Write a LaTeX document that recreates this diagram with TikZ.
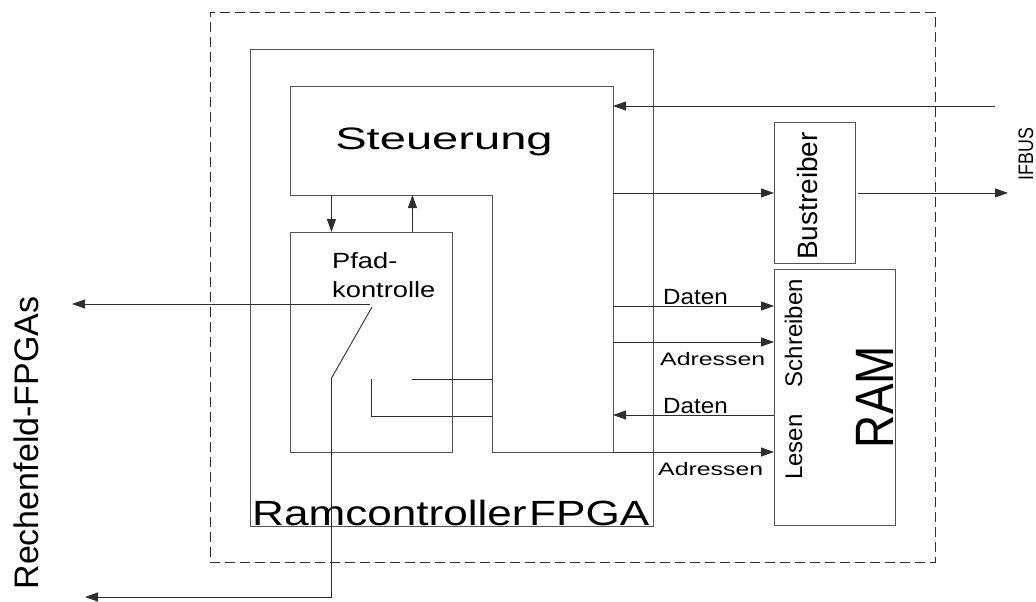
\documentclass[tikz,border=0pt]{standalone}
\usepackage{fontspec}
\setmainfont{Liberation Sans}
\usepackage{graphicx}
\usetikzlibrary{arrows.meta, positioning, calc}
\definecolor{wireGray}{HTML}{2E2E2E}
\definecolor{boxGray}{HTML}{555555}
\tikzset{
  arrowK/.style={-{Triangle[length=13pt,width=9pt]}, color=wireGray, line width=0.9pt},
  wire/.style={color=wireGray, line width=0.9pt},
  blk/.style={rectangle, draw=boxGray, line width=0.9pt, anchor=north west, inner sep=0pt},
  board/.style={rectangle, draw=wireGray, line width=0.8pt, dash pattern=on 10pt off 5pt,
                anchor=north west, inner sep=0pt},
  lbl/.style={inner sep=0pt, text=black},
  fontXL/.style={font=\fontsize{54}{60}\selectfont},
  fontL/.style={font=\fontsize{35}{40}\selectfont},
  fontM/.style={font=\fontsize{31}{36}\selectfont},
  fontS/.style={font=\fontsize{22}{29}\selectfont},
  fontXS/.style={font=\fontsize{18}{22}\selectfont},
}

\begin{document}
\begin{tikzpicture}[x=1pt, y=-1pt]
    \useasboundingbox (0,0) rectangle (1036,602);
    % boxes
    \node[board, minimum width=725pt, minimum height=550pt] (brd) at (210,12) {};
    \node[blk, minimum width=403pt, minimum height=477pt] (fpga) at (250,49) {};
    \node[blk, minimum width=162pt, minimum height=220pt] (pfad) at (290,232) {};
    \node[blk, minimum width=81pt, minimum height=141pt] (bus) at (774,122) {};
    \node[blk, minimum width=121pt, minimum height=256pt] (ram) at (774,269) {};
    % Steuerung outline
    \coordinate (stNW) at (290,86);
    \coordinate (stNE) at (613,86);
    \coordinate (stSE) at (613,452);
    \coordinate (stLegS) at (492,452);
    \coordinate (stLegN) at (492,195);
    \coordinate (stSW) at (290,195);
    \draw[boxGray, line width=0.9pt] (stNW) -- (stNE) -- (stSE) -- (stLegS)
      -- (stLegN) -- (stSW) -- cycle;

    % texts
    \node[lbl, fontM, anchor=base] (steu) at (444,149) {\scalebox{1.52}[1]{Steuerung}};
    \node[lbl, fontS, anchor=base west, align=left] (pfadtxt) at (332,297)
      {\scalebox{1.24}[1]{Pfad-}\\\scalebox{1.24}[1]{kontrolle}};
    \node[lbl, fontL, anchor=base west] (fpgatxt) at (252,525)
      {\scalebox{1.26}[1]{Ramcontroller\kern2pt FPGA}};
    \node[lbl, rotate=90, anchor=base, font=\fontsize{28}{32}\selectfont] (bustxt) at (817,196) {Bustreiber};
    \node[lbl, rotate=90, anchor=base, font=\fontsize{24}{28}\selectfont] (schr) at (802,333) {Schreiben};
    \node[lbl, rotate=90, anchor=base, font=\fontsize{24}{28}\selectfont] (les) at (802,447) {Lesen};
    \node[lbl, rotate=90, anchor=base, fontXL] (ramtxt) at (893,397) {\scalebox{0.85}[1]{RAM}};
    \node[lbl, rotate=90, anchor=base, font=\fontsize{21}{25}\selectfont] (ifbus) at (1033,154)
      {\scalebox{0.85}[1]{IFBUS}};
    \node[lbl, rotate=90, anchor=base, font=\fontsize{34}{38}\selectfont] (rech) at (38,443) {Rechenfeld-FPGAs};
    \node[lbl, fontS, anchor=base west] (dat1) at (663,304) {\scalebox{1.1}[1]{Daten}};
    \node[lbl, fontXS, anchor=base west] (adr1) at (660,365) {\scalebox{1.38}[1]{Adressen}};
    \node[lbl, fontS, anchor=base west] (dat2) at (663,413) {\scalebox{1.1}[1]{Daten}};
    \node[lbl, fontXS, anchor=base west] (adr2) at (658,475) {\scalebox{1.38}[1]{Adressen}};

    % IFBUS
    \coordinate (ifIn) at (995,106);
    \coordinate (ifOut) at (1008,193);
    \draw[arrowK] (ifIn) -- (ifIn -| stNE);
    \draw[arrowK] (bus.west -| stNE) -- (bus.west);
    \draw[arrowK] ([xshift=2pt]bus.east) -- (bus.east -| ifOut);

    % RAM ports
    \coordinate (ramD1) at (774,306);
    \coordinate (ramA1) at (774,342);
    \coordinate (ramD2) at (774,415);
    \coordinate (ramA2) at (774,452);
    \draw[arrowK] (ramD1 -| stNE) -- (ramD1);
    \draw[arrowK] (ramA1 -| stNE) -- (ramA1);
    \draw[arrowK] (ramD2) -- (ramD2 -| stNE);
    \draw[arrowK] (ramA2 -| stNE) -- (ramA2);

    % Steuerung <-> Pfadkontrolle
    \draw[arrowK] ([xshift=-40pt]pfad.north |- stSW) -- ([xshift=-40pt]pfad.north);
    \draw[arrowK] ([xshift=41pt]pfad.north) -- ([xshift=41pt]pfad.north |- stSW);

    % switch
    \coordinate (swPivot) at (370,304);
    \coordinate (swTip) at (372,307);
    \coordinate (swFoot) at (331,379);
    \coordinate (rfTop) at (72,304);
    \coordinate (rfBot) at (85,597);
    \draw[arrowK] (swPivot) -- (rfTop);
    \draw[wire] (swTip) -- (swFoot);
    \draw[arrowK] (swFoot) -- (swFoot |- rfBot) -- (rfBot);
    \coordinate (ctA) at (412,379);
    \coordinate (ctB) at (371,379);
    \coordinate (ctC) at (371,416);
    \draw[wire] (ctA) -- (ctA -| stLegN);
    \draw[wire] (ctB) -- (ctC) -- (ctC -| stLegN);
\end{tikzpicture}
\end{document}
